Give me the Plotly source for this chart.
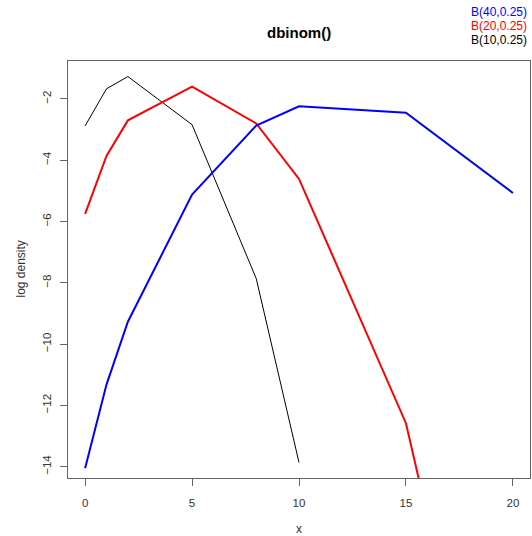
import plotly.graph_objects as go

x_vals = [0, 1, 2, 5, 8, 10, 15, 20]
b40 = [-14.05, -11.32, -9.27, -5.12, -2.87, -2.24, -2.45, -5.07]
b20 = [-5.75, -3.86, -2.70, -1.60, -2.80, -4.61, -12.58, -27.7]
b10 = [-2.88, -1.67, -1.27, -2.84, -7.86, -13.86, None, None]
legend_labels = ["B(40,0.25)", "B(20,0.25)", "B(10,0.25)"]
legend_colors = ["blue", "red", "black"]

W, H = 532, 536
L, T = 68, 61
R = W - 530
B = H - 478
pw, ph = W - L - R, H - T - B

def px(xs):
    return (xs - L) / pw

def py(ys):
    return (H - B - ys) / ph

fig = go.Figure()
fig.add_trace(go.Scatter(x=x_vals, y=b10, mode="lines", line=dict(color="black", width=1), showlegend=False))
fig.add_trace(go.Scatter(x=x_vals, y=b20, mode="lines", line=dict(color="red", width=2), showlegend=False))
fig.add_trace(go.Scatter(x=x_vals, y=b40, mode="lines", line=dict(color="blue", width=2), showlegend=False))

font = "Liberation Sans, Arial, sans-serif"
axis_common = dict(showgrid=False, zeroline=False, showline=True, mirror=True,
                   linecolor="#666666", linewidth=1, ticks="outside", ticklen=7,
                   tickcolor="#666666", tickwidth=1,
                   tickfont=dict(family=font, size=11.5, color="#333333"))

fig.update_layout(
    width=W, height=H,
    margin=dict(l=L, r=R, t=T, b=B),
    plot_bgcolor="white", paper_bgcolor="white",
    xaxis=dict(range=[-0.8, 20.8], tickvals=[0, 5, 10, 15, 20], ticklabelstandoff=7, **axis_common),
    yaxis=dict(range=[-14.367, -0.763], tickvals=[-2, -4, -6, -8, -10, -12, -14], tickangle=-90,
               ticklabelstandoff=4, **axis_common),
    showlegend=False,
)

ann = []
ann.append(dict(text="<b>dbinom()</b>", x=0.5, y=py(33), xref="paper", yref="paper",
                showarrow=False, xanchor="center", yanchor="middle",
                font=dict(family=font, size=15, color="black")))
ann.append(dict(text="x", x=0.5, y=py(529), xref="paper", yref="paper",
                showarrow=False, xanchor="center", yanchor="middle",
                font=dict(family=font, size=12, color="#333333")))
ann.append(dict(text="log density", x=px(20), y=0.5, xref="paper", yref="paper",
                showarrow=False, xanchor="center", yanchor="middle", textangle=-90,
                font=dict(family=font, size=12, color="#333333")))
for lab, col, yy in zip(legend_labels, legend_colors, [12, 26, 40]):
    ann.append(dict(text=lab, x=px(529), y=py(yy), xref="paper", yref="paper",
                    showarrow=False, xanchor="right", yanchor="middle",
                    font=dict(family=font, size=12, color=col)))
fig.update_layout(annotations=ann)

fig.write_html("out.html",
               config={"displayModeBar": False, "staticPlot": True},
               post_script="document.body.style.margin='0';document.body.style.overflow='hidden';")
